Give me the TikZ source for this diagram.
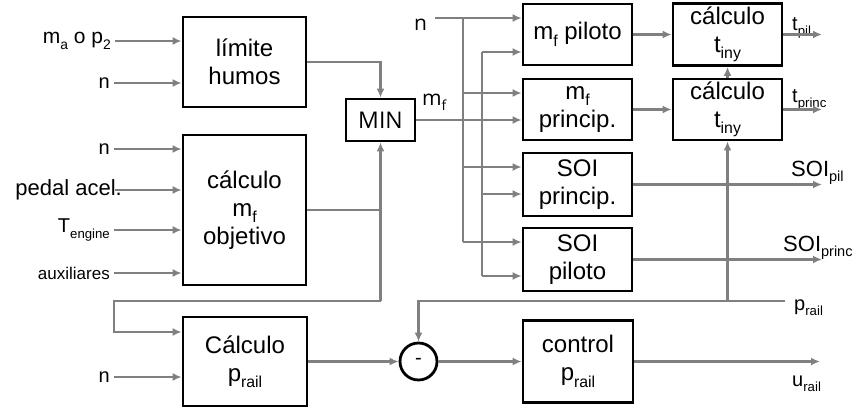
\documentclass[tikz,border=0pt]{standalone}
\usepackage{fontspec}
\usepackage{graphicx}
\setmainfont{Liberation Sans}
\newfontfamily\segoe{Open Sans}
\usetikzlibrary{arrows.meta}
\definecolor{wire}{RGB}{128,128,128}
\newcommand{\lo}[1]{\raisebox{-0.27em}{\scalebox{0.66}{#1}}}
\tikzset{
    blk/.style={draw, line width=2.8pt, align=center, inner sep=0pt,
        font=\fontsize{24}{28}\selectfont},
    wire/.style={draw=wire, line width=2.8pt},
    arr/.style={wire, -{Latex[length=9pt,width=8pt]}},
    lbl/.style={inner ysep=0pt, inner xsep=4pt, font=\fontsize{20}{22}\selectfont},
}
\begin{document}
\begin{tikzpicture}[x=1pt,y=-1pt]
                \useasboundingbox (0,0) rectangle (853,407);
                % left column
                \node[blk, minimum width=123pt, minimum height=90pt] (lim) at (244.5,62) {límite\\humos};
                \node[blk, minimum width=123pt, minimum height=150pt] (obj) at (244.5,210) {cálculo\\m\lo{f}\\objetivo};
                \node[blk, minimum width=124pt, minimum height=89pt] (cpr) at (245,361.5) {Cálculo\\p\lo{rail}};
                \node[blk, minimum width=69pt, minimum height=42pt, font=\segoe\fontsize{23}{26}\selectfont] (min) at (380.5,120) {MIN};
                \node[blk, circle, minimum size=37pt, font=\fontsize{20}{22}\selectfont] (sum) at (418.5,361.5) {-};
                % right columns
                \node[blk, minimum width=109pt, minimum height=61pt] (mfp) at (577.5,34.5) {m\lo{f} piloto};
                \node[blk, minimum width=109pt, minimum height=61pt] (mfpr) at (577.5,109.5) {m\lo{f}\\princip.};
                \node[blk, minimum width=109pt, minimum height=63pt] (soipr) at (577.5,184.5) {SOI\\princip.};
                \node[blk, minimum width=109pt, minimum height=63pt] (soipi) at (577.5,259.5) {SOI\\piloto};
                \node[blk, minimum width=109pt, minimum height=62pt] (tpil) at (727.5,34.5) {cálculo\\t\lo{iny}};
                \node[blk, minimum width=109pt, minimum height=61pt] (tpr) at (727.5,109.5) {cálculo\\t\lo{iny}};
                \node[blk, minimum width=110pt, minimum height=82pt] (ctl) at (578,361.5) {control\\p\lo{rail}};
                % inputs
                \node[lbl, anchor=east, font=\fontsize{21}{23}\selectfont] (ma) at (115,41) {m\lo{a} o p\lo{2}};
                \node[lbl, anchor=east] (n1) at (114,83) {n};
                \node[lbl, anchor=east] (n2) at (114,149) {n};
                \node[lbl, anchor=east, inner xsep=0pt, font=\fontsize{22}{24}\selectfont] (ped) at (122,190) {pedal acel.};
                \node[lbl, anchor=east] (teng) at (114,230) {T\lo{engine}};
                \node[lbl, anchor=east, font=\fontsize{17}{20}\selectfont] (aux) at (114,273) {auxiliares};
                \node[lbl, anchor=east] (n3) at (114,377) {n};
                \node[lbl, inner sep=0pt, anchor=base west, font=\segoe\fontsize{21}{23}\selectfont] (ntop) at (414,30) {n};
                \node[lbl, inner sep=0pt, anchor=base west, font=\segoe\fontsize{21}{23}\selectfont] (mf) at (422,105) {m\lo{f}};
                % outputs
                \node[lbl, inner sep=0pt, anchor=base west] (lpil) at (792,30) {t\lo{pil}};
                \node[lbl, inner sep=0pt, anchor=base west] (lprinc) at (792,102) {t\lo{princ}};
                \node[lbl, inner sep=0pt, anchor=base west, font=\fontsize{22}{24}\selectfont] (lsoipil) at (791,176) {SOI\lo{pil}};
                \node[lbl, inner sep=0pt, anchor=base west, font=\fontsize{22}{24}\selectfont] (lsoipr) at (783,251) {SOI\lo{princ}};
                \node[lbl, inner sep=0pt, anchor=base west] (lprail) at (794,310) {p\lo{rail}};
                \node[lbl, inner sep=0pt, anchor=base west] (lurail) at (792,386) {u\lo{rail}};
                % points
                \coordinate (nsrc) at (435,18);
                \coordinate (b1a) at (463,18);
                \coordinate (b1b) at (463,93);
                \coordinate (b1c) at (463,167);
                \coordinate (b1d) at (463,242);
                \coordinate (b2a) at (482,52);
                \coordinate (b2c) at (482,194);
                \coordinate (b2d) at (482,276);
                \coordinate (fb) at (380.5,301);
                \coordinate (fbl) at (114,301);
                \coordinate (cprtop) at (0,332);
                \coordinate (prail) at (785,301);
                \coordinate (opil) at (822,34.5);
                \coordinate (oprinc) at (822,109.5);
                \coordinate (osoi) at (822,0);
                \coordinate (urail) at (820,361.5);
                % left wires
                \draw[arr] (ma) -- (ma -| lim.west);
                \draw[arr] (n1) -- (n1 -| lim.west);
                \draw[arr] (n2) -- (n2 -| obj.west);
                \draw[arr] (ped.east) ++(-7pt,0) -- (ped -| obj.west);
                \draw[arr] (teng) -- (teng -| obj.west);
                \draw[arr] (aux) -- (aux -| obj.west);
                \draw[arr] (lim.east) -| (min.north);
                \draw[wire] (obj.east) -- (obj.east -| min.south);
                \draw[arr] (fb) -- (min.south);
                \draw[arr] (fb) -- (fbl) |- (cpr.west |- cprtop);
                \draw[arr] (n3) -- (n3 -| cpr.west);
                \draw[arr] (cpr) -- (sum);
                \draw[arr] (sum) -- (ctl);
                \draw[arr] (ctl.east) -- (urail);
                \draw[arr] (prail) -| (sum.north);
                % buses
                \draw[wire] (b1a) -- (b1d);
                \draw[wire] (b2a) -- (b2d);
                \draw[arr] (nsrc) -- (nsrc -| mfp.west);
                \draw[arr] (b2a) -- (b2a -| mfp.west);
                \draw[arr] (b1b) -- (b1b -| mfpr.west);
                \draw[arr] (min.east) -- (min.east -| mfpr.west);
                \draw[arr] (b1c) -- (b1c -| soipr.west);
                \draw[arr] (b2c) -- (b2c -| soipr.west);
                \draw[arr] (b1d) -- (b1d -| soipi.west);
                \draw[arr] (b2d) -- (b2d -| soipi.west);
                % right wires
                \draw[arr] (mfp) -- (tpil);
                \draw[arr] (mfpr) -- (tpr);
                \draw[arr] (tpr.north) -- (tpil.south);
                \draw[arr] (tpr.south |- prail) -- (tpr.south);
                \draw[arr] (tpil.east) -- (opil);
                \draw[arr] (tpr.east) -- (oprinc);
                \draw[arr] (soipr.east) -- (soipr.east -| osoi);
                \draw[arr] (soipi.east) -- (soipi.east -| osoi);
\end{tikzpicture}
\end{document}
